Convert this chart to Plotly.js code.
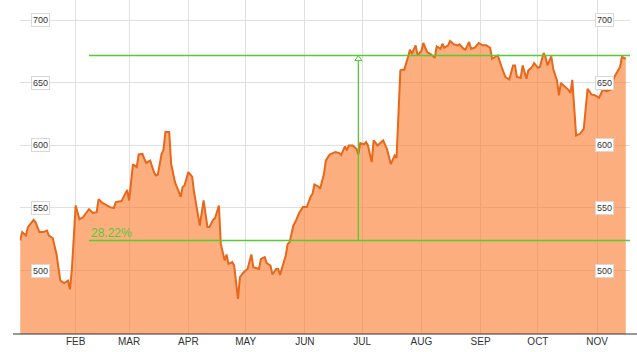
<!DOCTYPE html>
<html>
<head>
<meta charset="utf-8">
<script src="https://cdn.plot.ly/plotly-3.0.1.min.js"></script>
<style>html,body{margin:0;padding:0;background:#fff;}#chart{width:637px;height:352px;}</style>
</head>
<body>
<div id="chart"></div>
<script>
var dates = ["2013-01-03","2013-01-04","2013-01-06","2013-01-07","2013-01-10","2013-01-11","2013-01-13","2013-01-15","2013-01-17","2013-01-18","2013-01-20","2013-01-22","2013-01-24","2013-01-26","2013-01-28","2013-01-29","2013-01-30",
"2013-02-01","2013-02-03","2013-02-05","2013-02-06","2013-02-08","2013-02-10","2013-02-12","2013-02-13","2013-02-15","2013-02-19","2013-02-21","2013-02-22","2013-02-25","2013-02-28",
"2013-03-01","2013-03-03","2013-03-05","2013-03-06","2013-03-08","2013-03-09","2013-03-10","2013-03-12","2013-03-14","2013-03-15","2013-03-16","2013-03-18","2013-03-19","2013-03-20","2013-03-22","2013-03-23","2013-03-25","2013-03-28","2013-03-29","2013-03-30",
"2013-04-01","2013-04-03","2013-04-04","2013-04-07","2013-04-09","2013-04-11","2013-04-12","2013-04-14","2013-04-15","2013-04-17","2013-04-18","2013-04-20","2013-04-21","2013-04-22","2013-04-24","2013-04-25","2013-04-27","2013-04-28","2013-04-30",
"2013-05-02","2013-05-04","2013-05-05","2013-05-08","2013-05-09","2013-05-11","2013-05-12","2013-05-14","2013-05-15","2013-05-17","2013-05-18","2013-05-19","2013-05-22","2013-05-23","2013-05-24","2013-05-26","2013-05-27","2013-05-29","2013-05-31",
"2013-06-02","2013-06-04","2013-06-05","2013-06-06","2013-06-08","2013-06-09","2013-06-11","2013-06-12","2013-06-14","2013-06-17","2013-06-19","2013-06-20","2013-06-22","2013-06-23","2013-06-24","2013-06-26","2013-06-28","2013-06-29","2013-06-30",
"2013-07-02","2013-07-03","2013-07-04","2013-07-06","2013-07-07","2013-07-09","2013-07-12","2013-07-14","2013-07-16","2013-07-18","2013-07-19","2013-07-21","2013-07-22","2013-07-23","2013-07-25","2013-07-26","2013-07-27","2013-07-28","2013-07-29","2013-07-30",
"2013-08-01","2013-08-02","2013-08-04","2013-08-06","2013-08-08","2013-08-09","2013-08-11","2013-08-12","2013-08-13","2013-08-15","2013-08-16","2013-08-18","2013-08-20","2013-08-21","2013-08-23","2013-08-24","2013-08-26","2013-08-27","2013-08-29","2013-08-31",
"2013-09-02","2013-09-04","2013-09-06","2013-09-07","2013-09-09","2013-09-10","2013-09-12","2013-09-14","2013-09-16","2013-09-18","2013-09-19","2013-09-20","2013-09-22","2013-09-23","2013-09-25","2013-09-26","2013-09-28","2013-09-29",
"2013-10-01","2013-10-02","2013-10-04","2013-10-05","2013-10-06","2013-10-08","2013-10-09","2013-10-11","2013-10-12","2013-10-13","2013-10-15","2013-10-17","2013-10-18","2013-10-19","2013-10-21","2013-10-23","2013-10-25","2013-10-27","2013-10-29","2013-10-31",
"2013-11-02","2013-11-04","2013-11-06","2013-11-08","2013-11-10","2013-11-13","2013-11-14","2013-11-16"];

var prices = [524,530.7,528,534.7,540.5,538.7,530.7,530.7,532,528,526,513,492,490,492,485,500,
552,541,542.7,545,549,546,546.7,557,554,550.7,550,554.7,555.5,564.5,
556,585,582.7,592.8,593.3,589.3,586,588,578.7,576,576.5,593.3,596.5,610.7,610.7,585.3,570.7,559,566.7,568,
578.7,575,562.7,536,556,534.7,534.7,540.5,542,552,521.3,508,512.8,505.3,506.7,504,477.3,494.7,498.7,
501.3,512.8,502.7,501.3,509.3,510.7,505.9,504,496.8,501.3,501.3,496.5,512,521.3,522.7,536,538.7,546,550.7,
550.7,559,561.3,568.8,567.2,565.3,577.3,588,592.8,594.7,593.9,592.5,599.2,596,600,600,597.3,592.8,601.8,
600.8,602.7,600,586.7,604,600,604,597,585,592,590,660,660.5,660.5,670.7,676.5,673.3,677.3,680,672,
675.5,681.9,674.7,672.8,670.1,679.2,677.3,681.3,678.1,680,683.5,680.8,680,680.8,677.3,676.5,682.7,677.3,678.1,681.9,
680,680,678.1,669.3,670.7,672,662.7,654.7,652.8,664,664,654.7,654.1,664,653.3,660,662.7,665.9,
662.1,662.7,673.9,670.7,664,671.2,661.3,652,640,649.9,647.2,644.5,641.9,652.5,608,609.3,613.3,645.3,640.8,640,
638.1,644.5,643.4,644.5,654.7,662.7,670.7,669.3];

var monthTicks = ["2013-02-01","2013-03-01","2013-04-01","2013-05-01","2013-06-01","2013-07-01","2013-08-01","2013-09-01","2013-10-01","2013-11-01"];
var monthLabels = ["FEB","MAR","APR","MAY","JUN","JUL","AUG","SEP","OCT","NOV"];
var priceTicks = [500,550,600,650,700];
var priceTickLabels = ["500","550","600","650","700"];

var lowLevel = 524;
var highLevel = 671.9;
var markStart = "2013-02-08";
var markDate = "2013-06-29";
var gainText = "28.22%";

var green = "#55cc33";
var labelFont = {family: "Liberation Sans, Arial, sans-serif", size: 9, color: "#333"};

var annotations = [];
priceTicks.forEach(function (v, i) {
  [0.0328, 0.958].forEach(function (px) {
    annotations.push({
      xref: "paper", yref: "y", x: px, y: v, text: priceTickLabels[i],
      showarrow: false, xanchor: "center", yanchor: "middle",
      bgcolor: "#ffffff", bordercolor: "#d8d8d8", borderwidth: 1, borderpad: 1,
      font: labelFont
    });
  });
});
annotations.push({
  xref: "x", yref: "y", x: markStart, y: lowLevel, text: gainText,
  showarrow: false, xanchor: "left", yanchor: "bottom", xshift: 0, yshift: -1,
  font: {family: "Liberation Sans, Arial, sans-serif", size: 12, color: green}
});

var shapes = [
  {type: "line", xref: "x", yref: "y", x0: markStart, x1: "2013-11-18 05:00", y0: highLevel, y1: highLevel, line: {color: green, width: 1.3}},
  {type: "line", xref: "x", yref: "y", x0: markStart, x1: "2013-11-18 05:00", y0: lowLevel, y1: lowLevel, line: {color: green, width: 1.3}},
  {type: "line", xref: "x", yref: "y", x0: markDate, x1: markDate, y0: lowLevel, y1: highLevel, line: {color: green, width: 1.3}},
  {type: "path", xref: "x", yref: "y", xsizemode: "pixel", ysizemode: "pixel", xanchor: markDate, yanchor: highLevel,
   path: "M -3.5 -5 L 3.5 -5 L 0 0 Z", fillcolor: "#ffffff", line: {color: green, width: 1}},
  {type: "line", xref: "paper", yref: "paper", x0: -0.0115, x1: 1.0115, y0: 0, y1: 0, line: {color: "#333333", width: 1}}
];

var trace = {
  x: dates, y: prices, type: "scatter", mode: "lines",
  line: {color: "#e8671b", width: 2},
  fill: "tozeroy", fillcolor: "rgba(250,120,40,0.6)",
  hoverinfo: "skip"
};

var layout = {
  width: 637, height: 352,
  margin: {l: 20, r: 7, t: 0, b: 18, pad: 0},
  paper_bgcolor: "#ffffff", plot_bgcolor: "#ffffff",
  showlegend: false,
  xaxis: {
    type: "date", range: ["2013-01-02 21:00", "2013-11-18 05:00"],
    tickvals: monthTicks, ticktext: monthLabels,
    showgrid: true, gridcolor: "#e0e0e0", gridwidth: 1,
    zeroline: false, showline: false, ticks: "",
    tickfont: {family: "Liberation Sans, Arial, sans-serif", size: 10, color: "#333"},
    fixedrange: true
  },
  yaxis: {
    range: [449.25, 716.27],
    tickvals: priceTicks, showticklabels: false,
    showgrid: true, gridcolor: "#e0e0e0", gridwidth: 1,
    zeroline: false, showline: false, ticks: "",
    fixedrange: true
  },
  annotations: annotations,
  shapes: shapes
};

Plotly.newPlot("chart", [trace], layout, {staticPlot: true, displayModeBar: false});
</script>
</body>
</html>
